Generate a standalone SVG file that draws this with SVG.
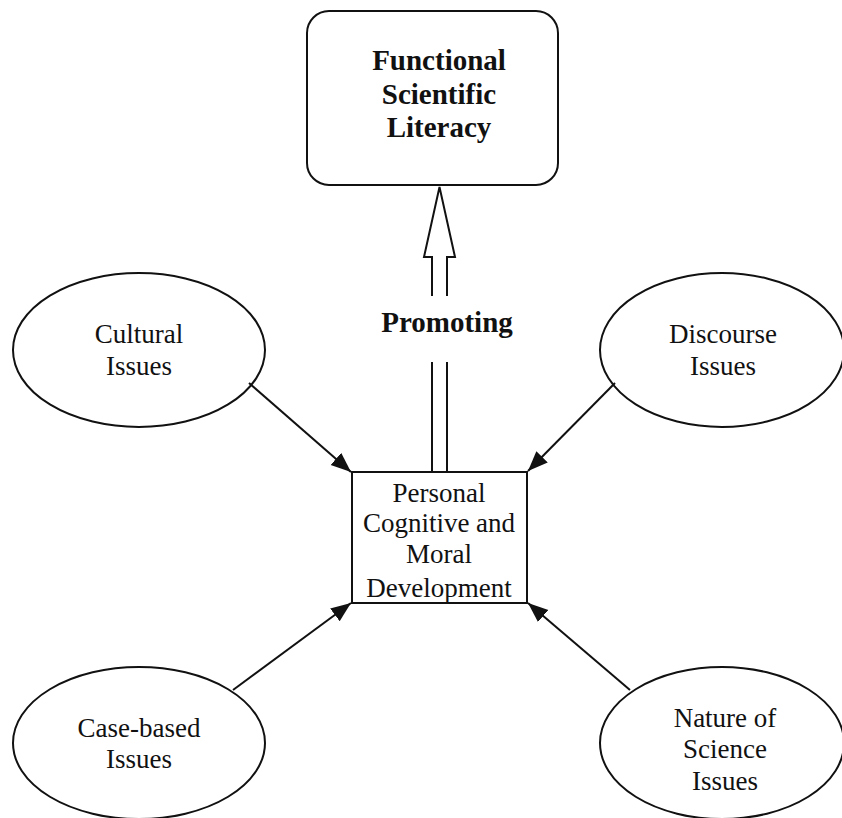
<svg xmlns="http://www.w3.org/2000/svg" width="842" height="818" viewBox="0 0 842 818">
<style>
.shape{fill:#fff;stroke:#111;stroke-width:2}
.t{font-family:"Liberation Serif","Times New Roman",serif;font-size:27px;fill:#111;text-anchor:middle}
.b{font-weight:bold;font-size:29px}
.c{stroke:#111;stroke-width:2;fill:none}
</style>
<defs>
<marker id="ah" markerUnits="userSpaceOnUse" markerWidth="22" markerHeight="18" refX="20" refY="8" orient="auto">
<path d="M0,0 L20,8 L0,16 z" fill="#111"/>
</marker>
</defs>
<rect width="842" height="818" fill="#fff"/>
<g id="fsl">
<rect class="shape" x="307" y="11" width="251" height="174" rx="22"/>
<text class="t b" x="439" y="70">Functional</text>
<text class="t b" x="439" y="104">Scientific</text>
<text class="t b" x="439" y="137">Literacy</text>
</g>
<g id="cultural">
<ellipse class="shape" cx="139" cy="350" rx="126" ry="77"/>
<text class="t" x="139" y="343">Cultural</text>
<text class="t" x="139" y="375">Issues</text>
</g>
<g id="discourse">
<ellipse class="shape" cx="722" cy="350" rx="122" ry="77"/>
<text class="t" x="723" y="343">Discourse</text>
<text class="t" x="723" y="375">Issues</text>
</g>
<g id="casebased">
<ellipse class="shape" cx="139" cy="743" rx="126" ry="76"/>
<text class="t" x="139" y="737">Case-based</text>
<text class="t" x="139" y="768">Issues</text>
</g>
<g id="nature">
<ellipse class="shape" cx="722" cy="743" rx="122" ry="76"/>
<text class="t" x="725" y="727">Nature of</text>
<text class="t" x="725" y="758">Science</text>
<text class="t" x="725" y="790">Issues</text>
</g>
<g id="connectors">
<path class="c" d="M432,296 V257 H424 L439.5,187 L455,257 H447 V296"/>
<path class="c" d="M432,362 V472 M447,362 V472"/>
<text class="t b" x="447" y="332">Promoting</text>
<line class="c" x1="249" y1="383" x2="351" y2="472" marker-end="url(#ah)"/>
<line class="c" x1="615" y1="383" x2="528" y2="471" marker-end="url(#ah)"/>
<line class="c" x1="233" y1="690" x2="351" y2="603" marker-end="url(#ah)"/>
<line class="c" x1="630" y1="690" x2="528" y2="603" marker-end="url(#ah)"/>
</g>
<g id="personal">
<rect class="shape" x="352" y="472" width="175" height="131"/>
<text class="t" x="439" y="502">Personal</text>
<text class="t" x="439" y="532">Cognitive and</text>
<text class="t" x="439" y="563">Moral</text>
<text class="t" x="439" y="597">Development</text>
</g>
</svg>
